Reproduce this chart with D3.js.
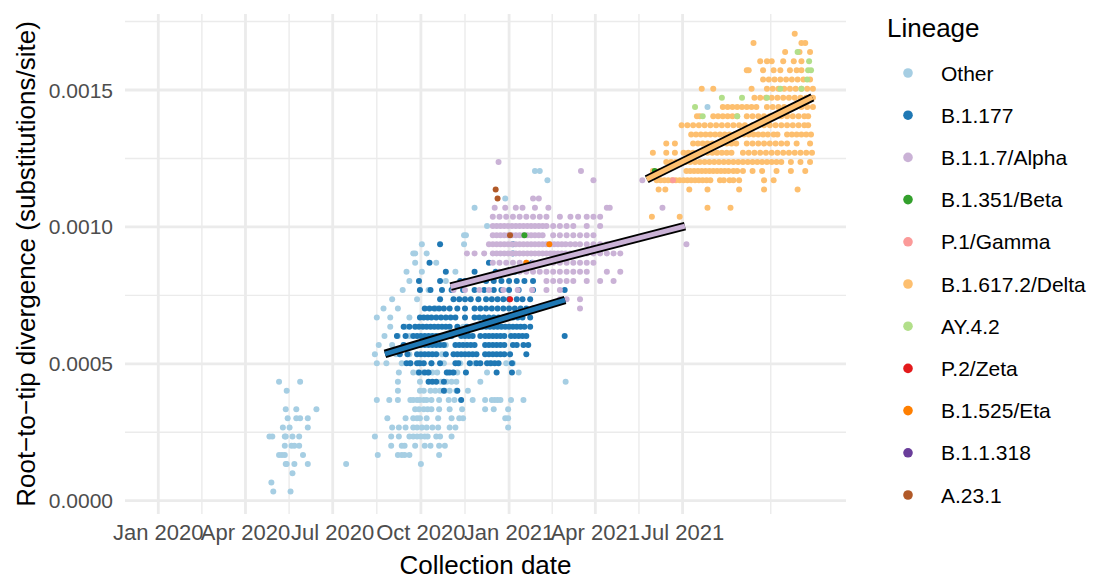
<!DOCTYPE html>
<html>
<head>
<meta charset="utf-8">
<script src="https://cdn.jsdelivr.net/npm/d3@7"></script>
<style>
  body { margin: 0; background: #fff; }
  svg text { font-family: "Liberation Sans", Arial, Helvetica, sans-serif; }
</style>
</head>
<body>
<svg id="chart"></svg>
<script>
// ---- data (days since 2020-01-01, substitutions per genome) ----
const genomeLength = 29903

const lineages = ['Other', 'B.1.177', 'B.1.1.7/Alpha', 'B.1.351/Beta', 'P.1/Gamma',
  'B.1.617.2/Delta', 'AY.4.2', 'P.2/Zeta', 'B.1.525/Eta', 'B.1.1.318', 'A.23.1']
const lineageColors = ['#A6CEE3', '#1F78B4', '#CAB2D6', '#33A02C', '#FB9A99',
  '#FDBF6F', '#B2DF8A', '#E31A1C', '#FF7F00', '#6A3D9A', '#B15928']

const otherRows = [
  [1, [120, 138]],
  [2, [118]],
  [3, [140]],
  [4, [133, 134, 142, 156, 196, 274]],
  [5, [126, 129, 132, 151, 229, 250, 254, 257, 262, 293]],
  [6, [132, 139, 142, 147, 243, 254, 257, 268, 278, 284, 293, 299]],
  [7, [116, 119, 132, 133, 140, 147, 226, 243, 251, 262, 266, 270, 274, 278, 281, 290, 294, 306]],
  [8, [130, 137, 156, 244, 251, 258, 266, 270, 275, 280, 286, 292, 304, 310, 365]],
  [9, [135, 144, 148, 156, 239, 258, 266, 270, 273, 280, 292, 306, 314, 318, 362, 365]],
  [10, [133, 144, 165, 268, 272, 277, 281, 285, 293, 304, 317, 341, 350, 365]],
  [11, [228, 241, 250, 263, 266, 270, 273, 277, 280, 285, 293, 303, 309, 328, 341, 348, 351, 354, 357, 368, 381]],
  [12, [134, 250, 273, 277, 284, 289, 294, 299, 304, 311, 323]],
  [13, [126, 148, 250, 273, 295, 301, 306, 311, 336, 425]],
  [14, [251, 266, 271, 276, 281, 286, 291, 302, 307, 312, 343, 376]],
  [15, [228, 238, 254, 263, 272, 285, 298, 315, 330, 346, 363, 370]],
  [16, [226, 240, 248, 262, 296]],
  [17, [230, 244, 256, 300]],
  [18, [236, 250, 262]],
  [19, [242, 258, 318]],
  [20, [228, 242, 262]],
  [21, [235, 250, 290]],
  [22, [244, 270]],
  [23, [255, 282]],
  [24, [262, 300]],
  [25, [259, 275, 310]],
  [26, [268, 290]],
  [27, [266, 268, 280]],
  [28, [275, 319]],
  [29, [319, 321]],
  [30, [343]],
  [32, [330]],
  [33, [362]],
  [35, [406]],
  [36, [393, 398]],
  [43, [573]]
]

const b1177Rows = [
  [11, [316]],
  [12, [298, 312]],
  [13, [282, 286, 290, 298]],
  [14, [272, 278, 282, 301, 304, 308, 321, 353, 369]],
  [15, [259, 263, 270, 273, 277, 285, 294, 310, 313, 325, 332, 336, 343, 347, 351, 355, 369]],
  [16, [252, 260, 270, 274, 278, 282, 286, 290, 300, 308, 312, 316, 320, 324, 328, 332, 341, 345, 349, 353, 357, 361, 367, 384]],
  [17, [256, 264, 270, 274, 278, 282, 286, 290, 294, 298, 310, 314, 318, 322, 326, 330, 341, 345, 349, 353, 357, 361, 370, 374, 381, 386]],
  [18, [249, 258, 266, 270, 274, 278, 282, 286, 290, 294, 298, 302, 306, 316, 320, 324, 328, 336, 341, 345, 349, 353, 357, 361, 368, 372, 376, 380, 384, 424]],
  [19, [256, 262, 268, 272, 276, 280, 284, 288, 292, 296, 300, 304, 312, 322, 330, 334, 338, 342, 346, 350, 354, 358, 362, 366, 370, 374, 378, 382, 388]],
  [20, [273, 277, 281, 285, 290, 295, 300, 305, 310, 320, 330, 335, 340, 345, 350, 355, 360, 365, 370, 375, 380, 388]],
  [21, [278, 283, 288, 293, 298, 304, 312, 320, 330, 336, 342, 348, 354, 360, 366, 372, 378, 384, 391]],
  [22, [294, 308, 314, 320, 326, 334, 342, 348, 354, 360, 366, 374, 380, 388]],
  [23, [273, 284, 296, 306, 318, 330, 340, 350, 358, 366, 376, 391, 424]],
  [24, [272, 294, 315, 320, 325, 342, 350, 358, 366, 374, 382, 391]],
  [25, [300, 330, 352, 372]],
  [26, [283, 345, 390]],
  [27, [370]],
  [28, [294, 370]]
]

const alphaRows = [
  [21, [440]],
  [22, [419, 426, 440]],
  [23, [308, 320, 335, 345, 360, 375, 390, 405, 419]],
  [24, [405, 412, 419, 426, 433, 447, 461, 475]],
  [25, [356, 363, 370, 377, 384, 391, 398, 405, 412, 419, 426, 433, 440, 447, 468, 482]],
  [26, [349, 356, 363, 370, 377, 384, 391, 398, 405, 412, 419, 426, 433, 440, 447, 454]],
  [27, [322, 330, 340, 349, 353, 357, 361, 365, 369, 373, 377, 381, 385, 389, 393, 397, 401, 405, 409, 413, 417, 421, 425, 430, 435, 440, 447, 454, 461, 468, 475, 482]],
  [28, [345, 349, 353, 357, 361, 365, 369, 373, 377, 381, 385, 389, 393, 397, 401, 405, 409, 413, 417, 421, 425, 430, 435, 440, 447, 454, 461, 468, 475, 482, 551]],
  [29, [349, 353, 357, 361, 365, 369, 373, 377, 381, 385, 389, 393, 397, 401, 412, 419, 426, 433, 440, 447, 454]],
  [30, [349, 353, 357, 361, 365, 369, 373, 377, 381, 385, 389, 393, 397, 401, 405, 412, 419, 426, 433, 447, 461]],
  [31, [349, 356, 363, 370, 377, 384, 391, 398, 405, 419, 430, 438, 447, 454, 461]],
  [32, [351, 362, 373, 380, 393, 407, 468, 471, 526]],
  [33, [391, 397]],
  [35, [454, 505]],
  [36, [441]],
  [37, [355]]
]

const deltaRows = [
  [31, [515, 544]],
  [32, [573, 597]],
  [34, [522, 529, 554, 573, 606, 632, 667]],
  [35, [520, 524, 528, 532, 536, 540, 544, 548, 552, 556, 560, 564, 568, 572, 576, 586, 590, 596, 600, 606, 632, 642]],
  [36, [516, 523, 551, 555, 559, 563, 567, 571, 575, 579, 583, 587, 591, 595, 600, 604, 610, 620, 630, 645, 660, 675]],
  [37, [530, 535, 540, 545, 550, 555, 560, 565, 570, 575, 580, 585, 590, 595, 600, 605, 610, 615, 620, 625, 630, 635, 640, 645, 650, 660, 670, 680]],
  [38, [516, 530, 539, 548, 553, 558, 563, 568, 573, 578, 583, 588, 593, 598, 610, 616, 622, 628, 634, 640, 646, 652, 658, 664, 670, 676, 682]],
  [39, [530, 539, 558, 563, 568, 573, 578, 583, 588, 593, 598, 603, 614, 620, 626, 632, 638, 644, 650, 656, 666, 680]],
  [40, [556, 561, 566, 571, 576, 581, 586, 591, 596, 601, 606, 611, 616, 621, 626, 631, 636, 642, 646, 656, 661, 666, 671, 676, 681]],
  [41, [546, 552, 558, 564, 570, 576, 582, 588, 594, 600, 606, 612, 620, 626, 632, 638, 644, 650, 656, 662, 668, 674, 678]],
  [42, [562, 565, 579, 584, 589, 594, 599, 604, 614, 620, 626, 632, 638, 644, 650, 656, 662, 668, 674, 678]],
  [43, [589, 594, 599, 604, 609, 614, 619, 624, 635, 641, 647, 653, 659, 665, 671, 677, 683]],
  [44, [622, 628, 634, 640, 646, 652, 658, 664, 670, 676, 683]],
  [45, [567, 579, 619, 635, 641, 647, 653, 659, 665, 671, 677, 683]],
  [46, [631, 637, 643, 649, 655, 661, 667, 673, 680]],
  [47, [614, 616, 631, 642, 649, 659, 666, 671]],
  [48, [628, 635, 640, 652, 663, 671]],
  [49, [654, 669, 680]],
  [50, [621, 671, 675]],
  [51, [664]]
]

// [lineage, day, substitutions] for the sparse lineages
const sparsePoints = [
  ['AY.4.2', 560, 43], ['AY.4.2', 568, 42], ['AY.4.2', 588, 44], ['AY.4.2', 609, 44],
  ['AY.4.2', 604, 42], ['AY.4.2', 635, 44], ['AY.4.2', 649, 45], ['AY.4.2', 667, 49],
  ['AY.4.2', 679, 48], ['AY.4.2', 678, 47], ['AY.4.2', 681, 47], ['AY.4.2', 677, 46],
  ['AY.4.2', 671, 45],
  ['B.1.351/Beta', 382, 29], ['B.1.351/Beta', 518, 36],
  ['P.1/Gamma', 537, 35],
  ['P.2/Zeta', 367, 22],
  ['B.1.525/Eta', 408, 28], ['B.1.525/Eta', 384, 26],
  ['A.23.1', 352, 34], ['A.23.1', 354, 33], ['A.23.1', 367, 29]
]

// linear fits: [lineage, start day, start divergence, end day, end divergence]
const fitLines = [
  ['B.1.177', 236.5, 0.000536, 424.4, 0.000733],
  ['B.1.1.7/Alpha', 305, 0.000782, 549.5, 0.001003],
  ['B.1.617.2/Delta', 509.6, 0.001174, 682.4, 0.001473]
]

const xBreaks = ['2020-01-01', '2020-04-01', '2020-07-01', '2020-10-01',
  '2021-01-01', '2021-04-01', '2021-07-01']
const xBreakLabels = ['Jan 2020', 'Apr 2020', 'Jul 2020', 'Oct 2020', 'Jan 2021', 'Apr 2021', 'Jul 2021']
const xExtraMinor = ['2021-10-01']
const yBreaks = [0, 0.0005, 0.001, 0.0015]
const yBreakLabels = ['0.0000', '0.0005', '0.0010', '0.0015']
const yExtraMinor = [0.00175]

// ---- drawing ----
const width = 1096
const height = 579
const panel = {left: 125, right: 846, top: 14, bottom: 514}

const origin = Date.UTC(2020, 0, 1)
const dayToDate = d => new Date(origin + d * 864e5)

const x = d3.scaleUtc()
  .domain([new Date('2019-11-27T07:00:00Z'), new Date('2021-12-18T12:00:00Z')])
  .range([panel.left, panel.right])
const y = d3.scaleLinear()
  .domain([-0.0000486, 0.0017776])
  .range([panel.bottom, panel.top])
const color = d3.scaleOrdinal().domain(lineages).range(lineageColors)

const svg = d3.select('#chart')
  .attr('width', width)
  .attr('height', height)

svg.append('rect').attr('width', width).attr('height', height).attr('fill', '#fff')

const xMajor = xBreaks.map(s => new Date(s + 'T00:00:00Z'))
const xMinor = d3.pairs(xMajor).map(([a, b]) => new Date((+a + +b) / 2))
  .concat(xExtraMinor.map(s => new Date(s + 'T00:00:00Z')))
const yMinor = d3.pairs(yBreaks).map(([a, b]) => (a + b) / 2).concat(yExtraMinor)

const grid = svg.append('g')
grid.selectAll('.yminor').data(yMinor).enter().append('line')
  .attr('x1', panel.left).attr('x2', panel.right)
  .attr('y1', d => y(d)).attr('y2', d => y(d))
  .attr('stroke', '#EBEBEB').attr('stroke-width', 1.4)
grid.selectAll('.xminor').data(xMinor).enter().append('line')
  .attr('y1', panel.top).attr('y2', panel.bottom)
  .attr('x1', d => x(d)).attr('x2', d => x(d))
  .attr('stroke', '#EBEBEB').attr('stroke-width', 1.4)
grid.selectAll('.ymajor').data(yBreaks).enter().append('line')
  .attr('x1', panel.left).attr('x2', panel.right)
  .attr('y1', d => y(d)).attr('y2', d => y(d))
  .attr('stroke', '#EBEBEB').attr('stroke-width', 2.8)
grid.selectAll('.xmajor').data(xMajor).enter().append('line')
  .attr('y1', panel.top).attr('y2', panel.bottom)
  .attr('x1', d => x(d)).attr('x2', d => x(d))
  .attr('stroke', '#EBEBEB').attr('stroke-width', 2.8)

// flatten rows into points
const rowsToPoints = (lineage, rows) => rows.flatMap(([k, days]) =>
  days.map(d => ({lineage, date: dayToDate(d), div: k / genomeLength})))

const points = [].concat(
  rowsToPoints('Other', otherRows),
  rowsToPoints('B.1.177', b1177Rows),
  rowsToPoints('B.1.1.7/Alpha', alphaRows),
  rowsToPoints('B.1.617.2/Delta', deltaRows),
  sparsePoints.map(([lineage, d, k]) => ({lineage, date: dayToDate(d), div: k / genomeLength}))
)

svg.append('g')
  .selectAll('circle')
  .data(points)
  .enter()
  .append('circle')
  .attr('cx', d => x(d.date))
  .attr('cy', d => y(d.div))
  .attr('r', 3)
  .attr('fill', d => color(d.lineage))

const fits = svg.append('g')
fits.selectAll('.fitOutline').data(fitLines).enter().append('line')
  .attr('x1', d => x(dayToDate(d[1]))).attr('y1', d => y(d[2]))
  .attr('x2', d => x(dayToDate(d[3]))).attr('y2', d => y(d[4]))
  .attr('stroke', '#000').attr('stroke-width', 8.5)
fits.selectAll('.fitInner').data(fitLines).enter().append('line')
  .attr('x1', d => x(dayToDate(d[1]))).attr('y1', d => y(d[2]))
  .attr('x2', d => x(dayToDate(d[3]))).attr('y2', d => y(d[4]))
  .attr('stroke', d => color(d[0])).attr('stroke-width', 4.8)

// axes text
svg.append('g')
  .selectAll('text')
  .data(xMajor)
  .enter()
  .append('text')
  .attr('x', d => x(d))
  .attr('y', 540)
  .attr('text-anchor', 'middle')
  .attr('font-size', 22)
  .attr('fill', '#4D4D4D')
  .text((d, i) => xBreakLabels[i])

svg.append('g')
  .selectAll('text')
  .data(yBreaks)
  .enter()
  .append('text')
  .attr('x', 113)
  .attr('y', d => y(d))
  .attr('dy', '0.36em')
  .attr('text-anchor', 'end')
  .attr('font-size', 21)
  .attr('fill', '#4D4D4D')
  .text((d, i) => yBreakLabels[i])

svg.append('text')
  .attr('x', (panel.left + panel.right) / 2)
  .attr('y', 574)
  .attr('text-anchor', 'middle')
  .attr('font-size', 26)
  .attr('fill', '#000')
  .text('Collection date')

svg.append('text')
  .attr('transform', `translate(35,${(panel.top + panel.bottom) / 2}) rotate(-90)`)
  .attr('text-anchor', 'middle')
  .attr('font-size', 26)
  .attr('fill', '#000')
  .text('Root\u2212to\u2212tip divergence (substitutions/site)')

// legend
const legend = svg.append('g')
legend.append('text')
  .attr('x', 887).attr('y', 37)
  .attr('font-size', 26)
  .text('Lineage')

const item = legend.selectAll('.item')
  .data(lineages)
  .enter()
  .append('g')
  .attr('transform', (d, i) => `translate(0,${73 + i * 42.2})`)
item.append('circle')
  .attr('cx', 908).attr('cy', 0).attr('r', 4.8)
  .attr('fill', d => color(d))
item.append('text')
  .attr('x', 941).attr('y', 0).attr('dy', '0.36em')
  .attr('font-size', 21)
  .text(d => d)
</script>
</body>
</html>
